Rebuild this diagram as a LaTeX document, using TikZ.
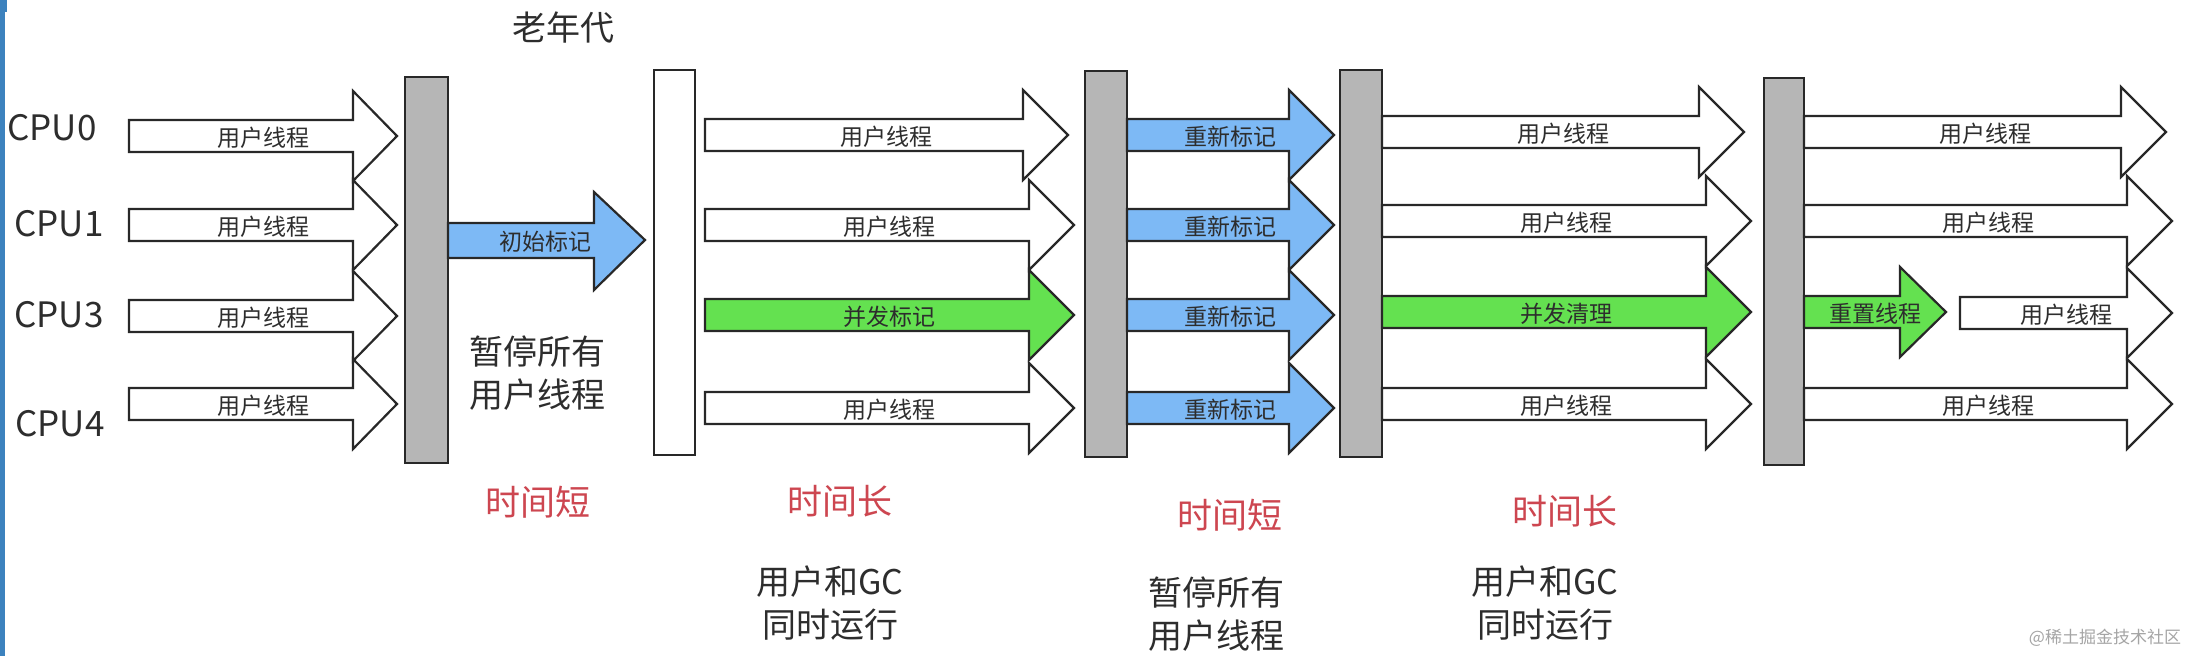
\documentclass[tikz,border=0pt]{standalone}
\usepackage{fontspec}
\setmainfont{Noto Sans CJK SC}
\definecolor{barg}{RGB}{182,182,182}
\definecolor{blu}{RGB}{125,185,245}
\definecolor{grn}{RGB}{100,225,80}
\definecolor{redt}{RGB}{205,70,80}
\definecolor{edge}{RGB}{40,40,40}
\definecolor{txt}{RGB}{45,45,45}
\definecolor{stripe}{RGB}{60,130,190}
\tikzset{
  outl/.style={draw=edge,line width=2.2pt,line join=miter},
  wfill/.style={outl,fill=white},
  bfill/.style={outl,fill=blu},
  gfill/.style={outl,fill=grn},
  graybar/.style={outl,fill=barg},
  whitebar/.style={outl,fill=white},
  lbl/.style={inner sep=0pt,text=txt,font=\fontsize{23}{26}\selectfont},
  cpu/.style={inner sep=0pt,text=txt,font=\fontsize{35}{40}\selectfont},
  big/.style={inner sep=0pt,text=txt,align=center,font=\fontsize{34}{43}\selectfont},
  red/.style={inner sep=0pt,text=redt,font=\fontsize{35}{40}\selectfont},
}
% name, x-left, x-headbase, x-tip, y-center, style, text
\newcommand{\barrow}[7]{%
  \draw[#6] (#2,#5-16) -- (#3,#5-16) -- (#3,#5-45) -- (#4,#5) -- (#3,#5+45) -- (#3,#5+16) -- (#2,#5+16) -- cycle;
  \node[lbl] (#1) at ({(#2+#4)/2},#5+2) {#7};}
\begin{document}
\begin{tikzpicture}[x=1pt,y=-1pt]
\useasboundingbox (0,0) rectangle (2192,656);
\fill[white] (0,0) rectangle (2192,656);
\fill[stripe] (0,0) rectangle (5,656);
\fill[stripe] (0,0) rectangle (7,12);

% CPU labels
\node[cpu] (c0) at (52,128) {CPU0};
\node[cpu] (c1) at (59,224) {CPU1};
\node[cpu] (c3) at (59,315) {CPU3};
\node[cpu] (c4) at (60,424) {CPU4};

% group 1
\barrow{a0}{129}{353}{397}{136}{wfill}{用户线程}
\barrow{a1}{129}{353}{397}{225}{wfill}{用户线程}
\barrow{a3}{129}{353}{397}{316}{wfill}{用户线程}
\barrow{a4}{129}{353}{397}{404}{wfill}{用户线程}

\draw[graybar] (405,77) rectangle (448,463);

% initial mark
\draw[bfill] (448,223) -- (594,223) -- (594,192) -- (645,240) -- (594,290) -- (594,258) -- (448,258) -- cycle;
\node[lbl] (im) at (545,242) {初始标记};

\draw[whitebar] (654,70) rectangle (695,455);
\node[big] (old) at (563,28) {老年代};
\node[big] (stop1) at (537,373) {暂停所有\\用户线程};

% group 2
\barrow{b0}{705}{1023}{1068}{135}{wfill}{用户线程}
\barrow{b1}{705}{1029}{1074}{225}{wfill}{用户线程}
\barrow{b3}{705}{1029}{1074}{315}{gfill}{并发标记}
\barrow{b4}{705}{1029}{1074}{408}{wfill}{用户线程}

\draw[graybar] (1085,71) rectangle (1127,457);

% remark
\barrow{r0}{1127}{1289}{1334}{135}{bfill}{重新标记}
\barrow{r1}{1127}{1289}{1334}{225}{bfill}{重新标记}
\barrow{r3}{1127}{1289}{1334}{315}{bfill}{重新标记}
\barrow{r4}{1127}{1289}{1334}{408}{bfill}{重新标记}

\draw[graybar] (1340,70) rectangle (1382,457);

% group 3
\barrow{d0}{1382}{1699}{1744}{132}{wfill}{用户线程}
\barrow{d1}{1382}{1706}{1751}{221}{wfill}{用户线程}
\barrow{d3}{1382}{1706}{1751}{312}{gfill}{并发清理}
\barrow{d4}{1382}{1706}{1751}{404}{wfill}{用户线程}

\draw[graybar] (1764,78) rectangle (1804,465);

% group 4
\barrow{e0}{1804}{2121}{2166}{132}{wfill}{用户线程}
\barrow{e1}{1804}{2127}{2172}{221}{wfill}{用户线程}
\barrow{e3}{1804}{1900}{1946}{312}{gfill}{重置线程}
\barrow{e3b}{1960}{2127}{2172}{313}{wfill}{用户线程}
\barrow{e4}{1804}{2127}{2172}{404}{wfill}{用户线程}

% bottom labels
\node[red] (t1) at (538,502) {时间短};
\node[red] (t2) at (840,501) {时间长};
\node[red] (t3) at (1230,515) {时间短};
\node[red] (t4) at (1565,511) {时间长};
\node[big] (u1) at (830,603) {用户和GC\\同时运行};
\node[big] (s2) at (1216,614) {暂停所有\\用户线程};
\node[big] (u2) at (1545,603) {用户和GC\\同时运行};

\node[inner sep=0pt,text={rgb,255:red,165;green,165;blue,165},font=\fontsize{17}{20}\selectfont] (wm) at (2105,638) {@稀土掘金技术社区};
\end{tikzpicture}
\end{document}
